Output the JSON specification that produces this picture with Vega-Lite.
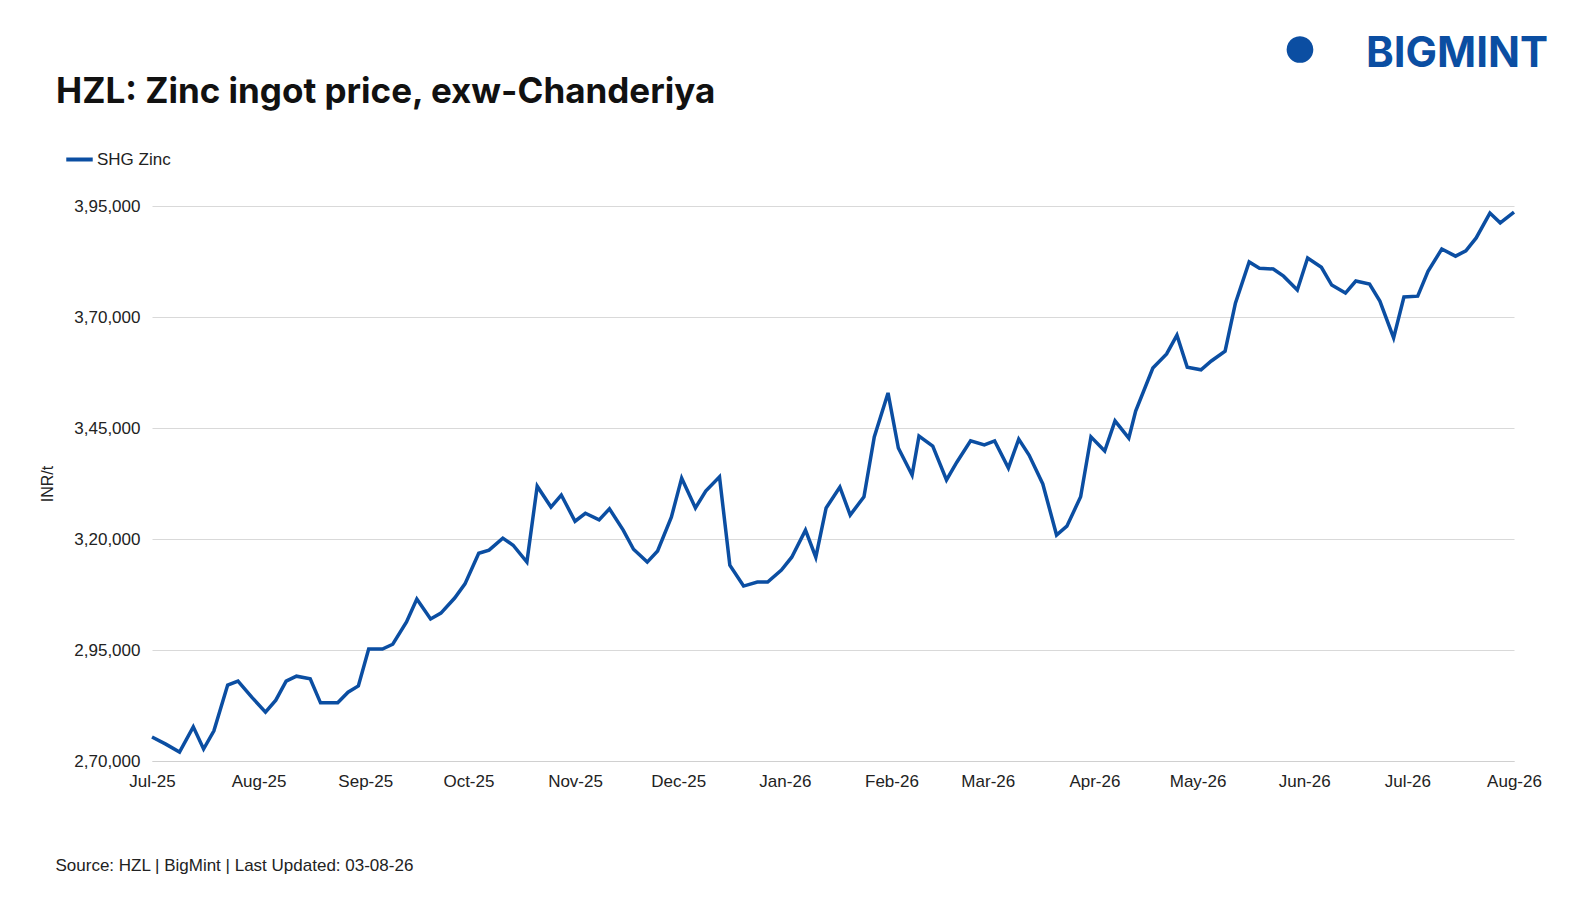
{
"$schema":"https://vega.github.io/schema/vega-lite/v6.json",
"width":1362,"height":555,
"autosize":{"type":"none"},
"padding":{"left":152,"top":206,"right":62,"bottom":139},
"background":"white",
"config":{"view":{"stroke":null},"font":"Liberation Sans"},
"layer":[
{"data":{"values":[
{"d":"2025-07-01","v":275400},{"d":"2025-07-05","v":273800},{"d":"2025-07-09","v":272000},{"d":"2025-07-13","v":277700},{"d":"2025-07-16","v":272700},{"d":"2025-07-19","v":276800},{"d":"2025-07-23","v":287100},{"d":"2025-07-26","v":288000},{"d":"2025-07-30","v":284400},{"d":"2025-08-03","v":281000},{"d":"2025-08-06","v":283700},{"d":"2025-08-09","v":288000},{"d":"2025-08-12","v":289100},{"d":"2025-08-16","v":288500},{"d":"2025-08-19","v":283100},{"d":"2025-08-24","v":283100},{"d":"2025-08-27","v":285500},{"d":"2025-08-30","v":286900},{"d":"2025-09-02","v":295200},{"d":"2025-09-06","v":295200},{"d":"2025-09-09","v":296300},{"d":"2025-09-13","v":301300},{"d":"2025-09-16","v":306500},{"d":"2025-09-20","v":302000},{"d":"2025-09-23","v":303300},{"d":"2025-09-27","v":306700},{"d":"2025-09-30","v":309900},{"d":"2025-10-04","v":316800},{"d":"2025-10-07","v":317500},{"d":"2025-10-11","v":320200},{"d":"2025-10-14","v":318600},{"d":"2025-10-18","v":314800},{"d":"2025-10-21","v":331900},{"d":"2025-10-25","v":327200},{"d":"2025-10-28","v":329900},{"d":"2025-11-01","v":324000},{"d":"2025-11-04","v":325800},{"d":"2025-11-08","v":324300},{"d":"2025-11-11","v":326800},{"d":"2025-11-15","v":322000},{"d":"2025-11-18","v":317700},{"d":"2025-11-22","v":314800},{"d":"2025-11-25","v":317300},{"d":"2025-11-29","v":324900},{"d":"2025-12-02","v":333700},{"d":"2025-12-06","v":327000},{"d":"2025-12-09","v":330800},{"d":"2025-12-13","v":334000},{"d":"2025-12-16","v":314100},{"d":"2025-12-20","v":309400},{"d":"2025-12-24","v":310300},{"d":"2025-12-27","v":310300},{"d":"2025-12-31","v":313000},{"d":"2026-01-03","v":315900},{"d":"2026-01-07","v":322000},{"d":"2026-01-10","v":315900},{"d":"2026-01-13","v":327000},{"d":"2026-01-17","v":331700},{"d":"2026-01-20","v":325400},{"d":"2026-01-24","v":329500},{"d":"2026-01-27","v":343000},{"d":"2026-01-31","v":352900},{"d":"2026-02-03","v":340500},{"d":"2026-02-07","v":334400},{"d":"2026-02-09","v":343200},{"d":"2026-02-13","v":340900},{"d":"2026-02-17","v":333300},{"d":"2026-02-20","v":337300},{"d":"2026-02-24","v":342100},{"d":"2026-02-28","v":341200},{"d":"2026-03-03","v":342100},{"d":"2026-03-07","v":336000},{"d":"2026-03-10","v":342500},{"d":"2026-03-13","v":338900},{"d":"2026-03-17","v":332400},{"d":"2026-03-21","v":320900},{"d":"2026-03-24","v":322900},{"d":"2026-03-28","v":329500},{"d":"2026-03-31","v":343000},{"d":"2026-04-04","v":339800},{"d":"2026-04-07","v":346600},{"d":"2026-04-11","v":342700},{"d":"2026-04-13","v":348800},{"d":"2026-04-18","v":358500},{"d":"2026-04-22","v":361700},{"d":"2026-04-25","v":365900},{"d":"2026-04-28","v":358700},{"d":"2026-05-02","v":358100},{"d":"2026-05-05","v":360100},{"d":"2026-05-09","v":362300},{"d":"2026-05-12","v":373100},{"d":"2026-05-16","v":382400},{"d":"2026-05-19","v":381000},{"d":"2026-05-23","v":380800},{"d":"2026-05-26","v":379200},{"d":"2026-05-30","v":376100},{"d":"2026-06-02","v":383300},{"d":"2026-06-06","v":381200},{"d":"2026-06-09","v":377200},{"d":"2026-06-13","v":375400},{"d":"2026-06-16","v":378100},{"d":"2026-06-20","v":377400},{"d":"2026-06-23","v":373600},{"d":"2026-06-27","v":365300},{"d":"2026-06-30","v":374500},{"d":"2026-07-04","v":374700},{"d":"2026-07-07","v":380300},{"d":"2026-07-11","v":385300},{"d":"2026-07-15","v":383700},{"d":"2026-07-18","v":384900},{"d":"2026-07-21","v":387800},{"d":"2026-07-25","v":393400},{"d":"2026-07-28","v":391200},{"d":"2026-08-01","v":393600}
]},
"transform":[{"calculate":"'SHG Zinc'","as":"s"}],
"mark":{"type":"line","strokeWidth":3.5,"clip":false},
"encoding":{
"x":{"field":"d","type":"temporal","scale":{"domain":["2025-07-01","2026-08-01"]},
"axis":{"format":"%b-%y","tickCount":{"interval":"month","step":1},"labelAlign":"center","labelOverlap":false,"grid":false,"ticks":false,"domainColor":"#d0d0d0","labelFontSize":17,"labelColor":"#222","labelPadding":12,"title":"Source: HZL | BigMint | Last Updated: 03-08-26","titleAnchor":"start","titleX":-97,"titleY":96,"titleFontSize":17,"titleFontWeight":"normal","titleColor":"#222"}},
"y":{"field":"v","type":"quantitative","scale":{"domain":[270000,395000],"zero":false},
"axis":{"values":[270000,295000,320000,345000,370000,395000],"labelExpr":"floor(datum.value/100000)+','+format(floor((datum.value%100000)/1000),'02d')+',000'","domain":false,"ticks":false,"gridColor":"#d9d9d9","labelFontSize":17,"labelColor":"#222","labelPadding":12,"title":"INR/t","titleFontSize":16,"titleFontWeight":"normal","titleColor":"#222","titlePadding":18}},
"color":{"field":"s","type":"nominal","scale":{"range":["#0b4ea2"]},
"legend":{"title":null,"orient":"none","legendX":-88,"legendY":-62,"symbolType":"stroke","symbolStrokeWidth":4,"symbolSize":700,"labelFontSize":17,"labelColor":"#222","labelOffset":2}}
}},
{"data":{"values":[{"t":"HZL:  Zinc ingot price, exw-Chanderiya"}]},
"mark":{"type":"text","x":-96,"y":-103,"align":"left","baseline":"alphabetic","fontSize":35,"fontWeight":"bold","font":"Inter","color":"#111","letterSpacing":0.6},
"encoding":{"text":{"field":"t"}}},
{"data":{"values":[{"t":"BIGMINT"}]},
"mark":{"type":"text","x":1396,"y":-152,"align":"right","baseline":"middle","fontSize":42,"fontWeight":"bold","font":"Inter","color":"#0b4ea2","letterSpacing":5},
"encoding":{"text":{"field":"t"}}},
{"data":{"values":[{"t":"●"}]},
"mark":{"type":"text","x":1148,"y":-158,"align":"center","baseline":"middle","fontSize":62,"color":"#0b4ea2"},
"encoding":{"text":{"field":"t"}}}
]
}
